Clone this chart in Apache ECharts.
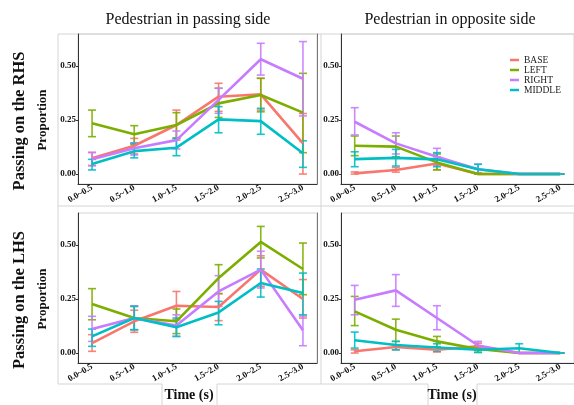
<!DOCTYPE html>
<html><head><meta charset="utf-8">
<script src="https://cdn.jsdelivr.net/npm/echarts@6.0.0/dist/echarts.min.js"></script>
<style>html,body{margin:0;padding:0;background:#fff}#c{width:574px;height:405px}</style>
</head><body><div id="c"></div>
<script>
const CATEGORIES = ['0.0~0.5','0.5~1.0','1.0~1.5','1.5~2.0','2.0~2.5','2.5~3.0'];
const GROUPS = ['BASE','LEFT','RIGHT','MIDDLE'];
const COLORS = ['#F8766D','#7CAE00','#C77CFF','#00BFC4'];
const Y_TICKS = [0, 0.25, 0.5];
const COL_TITLES = ['Pedestrian in passing side','Pedestrian in opposite side'];
const ROW_TITLES = ['Passing on the RHS','Passing on the LHS'];
const Y_NAME = 'Proportion';
const X_NAME = 'Time (s)';

// Passing on the RHS, pedestrian in passing side
const RHS_PASS_BASE      = [0.073,0.131,0.227,0.358,0.369,0.142];
const RHS_PASS_BASE_LO   = [0.040,0.093,0.157,0.290,0.296,0.000];
const RHS_PASS_BASE_HI   = [0.100,0.165,0.296,0.420,0.443,0.280];
const RHS_PASS_LEFT      = [0.235,0.184,0.227,0.327,0.366,0.284];
const RHS_PASS_LEFT_LO   = [0.173,0.137,0.167,0.262,0.288,0.099];
const RHS_PASS_LEFT_HI   = [0.296,0.224,0.284,0.397,0.443,0.466];
const RHS_PASS_RIGHT     = [0.069,0.119,0.157,0.343,0.531,0.441];
const RHS_PASS_RIGHT_LO  = [0.038,0.088,0.116,0.281,0.458,0.269];
const RHS_PASS_RIGHT_HI  = [0.100,0.145,0.199,0.397,0.605,0.613];
const RHS_PASS_MIDDLE    = [0.046,0.106,0.122,0.253,0.245,0.096];
const RHS_PASS_MIDDLE_LO = [0.019,0.075,0.085,0.191,0.184,0.031];
const RHS_PASS_MIDDLE_HI = [0.068,0.142,0.165,0.312,0.304,0.154];

// Passing on the RHS, pedestrian in opposite side
const RHS_OPP_BASE      = [0.003,0.019,0.049,0.000,0.000,0.000];
const RHS_OPP_BASE_LO   = [0.000,0.009,0.020,0.000,0.000,0.000];
const RHS_OPP_BASE_HI   = [0.010,0.030,0.080,0.006,0.000,0.000];
const RHS_OPP_LEFT      = [0.131,0.127,0.054,0.000,0.000,0.000];
const RHS_OPP_LEFT_LO   = [0.085,0.080,0.019,0.000,0.000,0.000];
const RHS_OPP_LEFT_HI   = [0.176,0.176,0.093,0.000,0.000,0.000];
const RHS_OPP_RIGHT     = [0.242,0.142,0.080,0.022,0.000,0.000];
const RHS_OPP_RIGHT_LO  = [0.181,0.093,0.038,0.000,0.000,0.000];
const RHS_OPP_RIGHT_HI  = [0.307,0.191,0.119,0.046,0.000,0.000];
const RHS_OPP_MIDDLE    = [0.069,0.075,0.068,0.022,0.000,0.000];
const RHS_OPP_MIDDLE_LO = [0.034,0.037,0.034,0.000,0.000,0.000];
const RHS_OPP_MIDDLE_HI = [0.103,0.114,0.099,0.045,0.000,0.000];

// Passing on the LHS, pedestrian in passing side
const LHS_PASS_BASE      = [0.046,0.147,0.219,0.213,0.386,0.250];
const LHS_PASS_BASE_LO   = [0.008,0.096,0.154,0.150,0.309,0.162];
const LHS_PASS_BASE_HI   = [0.085,0.198,0.285,0.275,0.450,0.340];
const LHS_PASS_LEFT      = [0.227,0.162,0.147,0.347,0.514,0.389];
const LHS_PASS_LEFT_LO   = [0.154,0.108,0.090,0.275,0.440,0.270];
const LHS_PASS_LEFT_HI   = [0.298,0.216,0.204,0.409,0.586,0.509];
const LHS_PASS_RIGHT     = [0.111,0.162,0.127,0.285,0.386,0.106];
const LHS_PASS_RIGHT_LO  = [0.054,0.108,0.077,0.216,0.301,0.034];
const LHS_PASS_RIGHT_HI  = [0.170,0.219,0.177,0.358,0.471,0.171];
const LHS_PASS_MIDDLE    = [0.077,0.162,0.119,0.188,0.324,0.278];
const LHS_PASS_MIDDLE_LO = [0.031,0.108,0.077,0.131,0.259,0.177];
const LHS_PASS_MIDDLE_HI = [0.111,0.216,0.162,0.239,0.389,0.370];

// Passing on the LHS, pedestrian in opposite side
const LHS_OPP_BASE      = [0.008,0.028,0.015,0.031,0.000,0.000];
const LHS_OPP_BASE_LO   = [0.000,0.015,0.005,0.012,0.000,0.000];
const LHS_OPP_BASE_HI   = [0.015,0.039,0.028,0.046,0.000,0.000];
const LHS_OPP_LEFT      = [0.193,0.108,0.054,0.019,0.000,0.000];
const LHS_OPP_LEFT_LO   = [0.127,0.054,0.028,0.003,0.000,0.000];
const LHS_OPP_LEFT_HI   = [0.262,0.157,0.077,0.034,0.000,0.000];
const LHS_OPP_RIGHT     = [0.247,0.290,0.162,0.035,0.000,0.000];
const LHS_OPP_RIGHT_LO  = [0.177,0.216,0.108,0.019,0.000,0.000];
const LHS_OPP_RIGHT_HI  = [0.313,0.363,0.219,0.054,0.000,0.000];
const LHS_OPP_MIDDLE    = [0.059,0.037,0.026,0.015,0.022,0.000];
const LHS_OPP_MIDDLE_LO = [0.023,0.015,0.008,0.003,0.000,0.000];
const LHS_OPP_MIDDLE_HI = [0.097,0.054,0.043,0.028,0.043,0.000];

const PANELS = [
  [[RHS_PASS_BASE,RHS_PASS_BASE_LO,RHS_PASS_BASE_HI],[RHS_PASS_LEFT,RHS_PASS_LEFT_LO,RHS_PASS_LEFT_HI],[RHS_PASS_RIGHT,RHS_PASS_RIGHT_LO,RHS_PASS_RIGHT_HI],[RHS_PASS_MIDDLE,RHS_PASS_MIDDLE_LO,RHS_PASS_MIDDLE_HI]],
  [[RHS_OPP_BASE,RHS_OPP_BASE_LO,RHS_OPP_BASE_HI],[RHS_OPP_LEFT,RHS_OPP_LEFT_LO,RHS_OPP_LEFT_HI],[RHS_OPP_RIGHT,RHS_OPP_RIGHT_LO,RHS_OPP_RIGHT_HI],[RHS_OPP_MIDDLE,RHS_OPP_MIDDLE_LO,RHS_OPP_MIDDLE_HI]],
  [[LHS_PASS_BASE,LHS_PASS_BASE_LO,LHS_PASS_BASE_HI],[LHS_PASS_LEFT,LHS_PASS_LEFT_LO,LHS_PASS_LEFT_HI],[LHS_PASS_RIGHT,LHS_PASS_RIGHT_LO,LHS_PASS_RIGHT_HI],[LHS_PASS_MIDDLE,LHS_PASS_MIDDLE_LO,LHS_PASS_MIDDLE_HI]],
  [[LHS_OPP_BASE,LHS_OPP_BASE_LO,LHS_OPP_BASE_HI],[LHS_OPP_LEFT,LHS_OPP_LEFT_LO,LHS_OPP_LEFT_HI],[LHS_OPP_RIGHT,LHS_OPP_RIGHT_LO,LHS_OPP_RIGHT_HI],[LHS_OPP_MIDDLE,LHS_OPP_MIDDLE_LO,LHS_OPP_MIDDLE_HI]]
];

const SERIF = '"Liberation Serif","Times New Roman",serif';
const GRID_POS = [
  {left:78, top:34, width:239, height:150},
  {left:341, top:34, width:238, height:150},
  {left:78, top:213, width:239, height:150},
  {left:341, top:213, width:238, height:150}
];
const XMIN = 2/3, XMAX = 6 + 1/3, YMIN = -0.046, YMAX = 0.648;

const grid = GRID_POS.map(g => Object.assign({show:true, borderColor:'#d4d4d4', borderWidth:1, backgroundColor:'#fff'}, g));
const xAxis = GRID_POS.map((g,i) => ({
  type:'value', gridIndex:i, min:XMIN, max:XMAX,
  axisLine:{show:true, onZero:false, lineStyle:{color:'#333', width:1}},
  axisTick:{show:false}, splitLine:{show:false},
  axisLabel:{customValues:[1,2,3,4,5,6], formatter:v => CATEGORIES[Math.round(v)-1],
    rotate:30, margin:3, fontFamily:SERIF, fontWeight:'bold', fontSize:9, color:'#111'}
}));
const yAxis = GRID_POS.map((g,i) => ({
  type:'value', gridIndex:i, min:YMIN, max:YMAX,
  axisLine:{show:true, onZero:false, lineStyle:{color:'#333', width:1}},
  axisTick:{show:true, customValues:Y_TICKS, length:2, lineStyle:{color:'#333'}},
  splitLine:{show:false},
  axisLabel:{customValues:Y_TICKS, formatter:v => v.toFixed(2), margin:2,
    fontFamily:SERIF, fontWeight:'bold', fontSize:9, color:'#111'}
}));
[0,2].forEach(gi => yAxis.push({
  type:'value', gridIndex:gi, position:'right', min:YMIN, max:YMAX,
  axisLine:{show:true, onZero:false, lineStyle:{color:'#777', width:1}},
  axisTick:{show:false}, axisLabel:{show:false}, splitLine:{show:false}
}));

const series = [];
PANELS.forEach((panel, pi) => {
  panel.forEach((grp, gi) => {
    const [mean, lo, hi] = grp;
    series.push({
      type:'custom', name:GROUPS[gi] + ' error', xAxisIndex:pi, yAxisIndex:pi,
      data: mean.map((m,k) => [k+1, lo[k], hi[k]]),
      encode:{x:0, y:[1,2]}, silent:true, z:2,
      renderItem:(params, api) => {
        const x = api.value(0);
        const a = api.coord([x, api.value(1)]);
        const b = api.coord([x, api.value(2)]);
        const w = 4;
        const style = {stroke:COLORS[gi], lineWidth:1.6, opacity:0.9};
        return {type:'group', children:[
          {type:'line', shape:{x1:a[0], y1:a[1], x2:b[0], y2:b[1]}, style},
          {type:'line', shape:{x1:a[0]-w, y1:a[1], x2:a[0]+w, y2:a[1]}, style},
          {type:'line', shape:{x1:b[0]-w, y1:b[1], x2:b[0]+w, y2:b[1]}, style}
        ]};
      }
    });
    series.push({
      type:'line', name:GROUPS[gi], xAxisIndex:pi, yAxisIndex:pi,
      data: mean.map((m,k) => [k+1, m]),
      showSymbol:false, symbol:'none', z:3,
      lineStyle:{color:COLORS[gi], width:2.6},
      itemStyle:{color:COLORS[gi]}
    });
  });
});

const LG = '#d4d4d4';
const gline = (x1,y1,x2,y2) => ({type:'line', shape:{x1,y1,x2,y2}, style:{stroke:LG, lineWidth:1}, silent:true, z:0});
const graphic = [
  gline(58,34,574,34), gline(58,34,58,384), gline(321,34,321,384),
  gline(58,206,574,206),
  gline(58,384,162,384), gline(162,384,162,405), gline(217,384,217,405), gline(217,384,428,384),
  gline(428,384,428,405), gline(477,384,477,405), gline(477,384,574,384),
  {type:'text', x:188, y:20, style:{text:COL_TITLES[0], font:'16px ' + SERIF, fill:'#111', textAlign:'center', textVerticalAlign:'middle'}},
  {type:'text', x:450, y:20, style:{text:COL_TITLES[1], font:'16px ' + SERIF, fill:'#111', textAlign:'center', textVerticalAlign:'middle'}},
  {type:'text', x:20, y:121, rotation:Math.PI/2, style:{text:ROW_TITLES[0], font:'bold 16.5px ' + SERIF, fill:'#111', textAlign:'center', textVerticalAlign:'middle'}},
  {type:'text', x:20, y:300, rotation:Math.PI/2, style:{text:ROW_TITLES[1], font:'bold 16.5px ' + SERIF, fill:'#111', textAlign:'center', textVerticalAlign:'middle'}},
  {type:'text', x:43, y:120, rotation:Math.PI/2, style:{text:Y_NAME, font:'bold 13px ' + SERIF, fill:'#111', textAlign:'center', textVerticalAlign:'middle'}},
  {type:'text', x:43, y:299, rotation:Math.PI/2, style:{text:Y_NAME, font:'bold 13px ' + SERIF, fill:'#111', textAlign:'center', textVerticalAlign:'middle'}},
  {type:'text', x:189, y:395, style:{text:X_NAME, font:'bold 14px ' + SERIF, fill:'#111', textAlign:'center', textVerticalAlign:'middle'}},
  {type:'text', x:452, y:395, style:{text:X_NAME, font:'bold 14px ' + SERIF, fill:'#111', textAlign:'center', textVerticalAlign:'middle'}}
];

const chart = echarts.init(document.getElementById('c'), null, {renderer:'canvas'});
chart.setOption({
  animation:false,
  backgroundColor:'#fff',
  grid, xAxis, yAxis, series, graphic,
  legend:{
    data:GROUPS, orient:'vertical', left:510, top:55, padding:0, icon:'rect',
    itemWidth:9, itemHeight:2.5, itemGap:0, selectedMode:false,
    textStyle:{fontFamily:SERIF, fontSize:9.5, color:'#222', lineHeight:10, padding:[0,0,0,0]}
  }
});
</script></body></html>
